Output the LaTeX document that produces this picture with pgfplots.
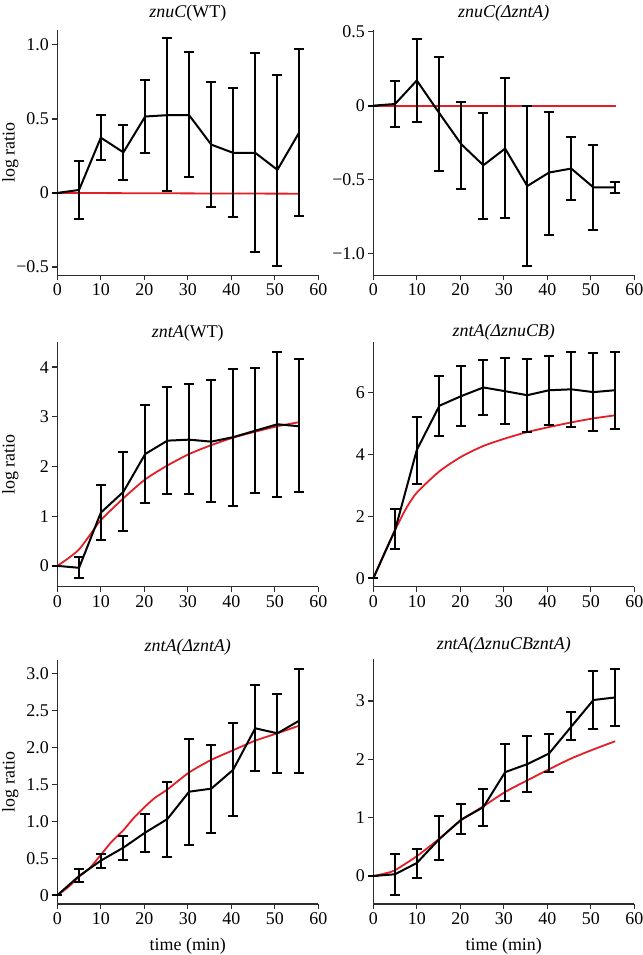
\documentclass[border=0pt]{standalone}
\usepackage{fontspec}
\setmainfont{Liberation Serif}
\usepackage{pgfplots}
\pgfplotsset{compat=1.18}
\usepackage{pgfplotstable}
\definecolor{modelred}{RGB}{228,30,36}
\definecolor{axgray}{RGB}{45,45,45}

% columns: t, mean, upper end of bar, lower end of bar
\pgfplotstableread{
t y hi lo
0 0 0 0
5 0.02 0.217 -0.174
10 0.373 0.527 0.219
15.2 0.274 0.457 0.084
20.2 0.516 0.762 0.271
25.3 0.525 1.043 0.011
30.3 0.525 0.950 0.106
35.4 0.326 0.749 -0.097
40.4 0.271 0.708 -0.165
45.5 0.271 0.943 -0.396
50.6 0.156 0.794 -0.495
55.5 0.403 0.973 -0.158
}\znuWT
\pgfplotstableread{
t y hi lo
0 0 0 0
5 0.011 0.165 -0.143
10 0.170 0.452 -0.109
15.2 -0.052 0.330 -0.443
20.2 -0.260 0.023 -0.561
25.3 -0.403 -0.050 -0.769
30.3 -0.290 0.186 -0.760
35.4 -0.543 -0.002 -1.086
40.4 -0.452 -0.041 -0.871
45.5 -0.425 -0.213 -0.636
50.6 -0.552 -0.267 -0.837
55.5 -0.552 -0.518 -0.588
}\znuDzntA
\pgfplotstableread{
t y hi lo
0 0 0 0
5 -0.04 0.168 -0.242
10 1.07 1.63 0.517
15.2 1.49 2.29 0.705
20.2 2.25 3.23 1.255
25.3 2.52 3.59 1.456
30.3 2.54 3.67 1.436
35.4 2.50 3.74 1.28
40.4 2.59 3.97 1.21
45.5 2.72 3.98 1.47
50.6 2.85 4.31 1.38
55.5 2.81 4.16 1.48
}\zntWT
\pgfplotstableread{
t y hi lo
0 0 0 0
5 1.56 2.24 0.96
10 4.15 5.20 3.06
15.2 5.58 6.54 4.61
20.2 5.89 6.86 4.91
25.3 6.17 7.05 5.29
30.3 6.05 7.13 4.98
35.4 5.92 7.09 4.74
40.4 6.08 7.19 4.97
45.5 6.11 7.33 4.88
50.6 6.02 7.27 4.76
55.5 6.08 7.33 4.83
}\zntDznuCB
\pgfplotstableread{
t y hi lo
0 0 0 0
5 0.26 0.356 0.176
10 0.468 0.554 0.365
15.2 0.644 0.797 0.473
20.2 0.847 1.10 0.581
25.3 1.03 1.536 0.523
30.3 1.40 2.117 0.685
35.4 1.441 2.03 0.838
40.4 1.694 2.333 1.068
45.5 2.257 2.838 1.685
50.6 2.189 2.72 1.658
55.5 2.356 3.063 1.649
}\zntDzntA
\pgfplotstableread{
t y hi lo
0 0 0 0
5 0.03 0.378 -0.33
10 0.223 0.458 -0.03
15.2 0.635 1.03 0.275
20.2 0.967 1.24 0.727
25.3 1.18 1.483 0.864
30.3 1.78 2.27 1.282
35.4 1.918 2.40 1.437
40.4 2.10 2.433 1.775
45.5 2.56 2.816 2.34
50.6 3.017 3.52 2.52
55.5 3.06 3.555 2.57
}\zntDboth

\pgfplotsset{
  panel/.style={
    scale only axis, width=261bp, height=245bp,
    xmin=0, xmax=60, xtick={0,10,...,60},
    axis lines=left, axis line style={-, axgray, line width=1.3bp},
    tick align=outside, major tick length=5bp,
    tick style={axgray, line width=1.3bp},
    /pgf/number format/assume math mode=true,
    tick label style={font=\fontsize{18}{20}\selectfont},
    label style={font=\fontsize{18}{20}\selectfont},
    title style={font=\fontsize{18}{20}\selectfont, anchor=center},
    y label style={at={(axis description cs:-0.18,0.5)}, anchor=center},
    x label style={at={(axis description cs:0.5,0)}, anchor=center, yshift=-42bp},
    clip=false,
  },
  model/.style={modelred, line width=1.8bp, smooth, tension=0.4, no markers},
  obs/.style={black, line width=2bp, no markers, line join=round,
    error bars/.cd, y dir=both, y explicit,
    error bar style={black, line width=2bp},
    error mark options={rotate=90, mark size=5bp, line width=2bp}},
}

\begin{document}
\begin{tikzpicture}
\useasboundingbox (0,0) rectangle (643bp,955bp);

% row 1
\begin{axis}[panel, at={(57.3bp,679.7bp)}, anchor=south west, height=245.3bp,
  ymin=-0.556, ymax=1.10, ytick={-0.5,0,0.5,1}, yticklabels={−0.5,0,0.5,1.0},
  title={\textit{znuC}(WT)}, title style={yshift=10.5bp}, ylabel={log ratio}]
\addplot[model] coordinates {(0,0) (10,-0.001) (20,-0.002) (30,-0.003) (40,-0.004) (55.5,-0.005)};
\addplot[obs] table[x=t, y=y, y error plus expr=\thisrow{hi}-\thisrow{y}, y error minus expr=\thisrow{y}-\thisrow{lo}] {\znuWT};
\end{axis}

\begin{axis}[panel, at={(373.3bp,679.7bp)}, anchor=south west, height=245.3bp,
  ymin=-1.146, ymax=0.511, ytick={-1,-0.5,0,0.5}, yticklabels={−1.0,−0.5,0,0.5},
  title={\textit{znuC(ΔzntA)}}, title style={yshift=10.5bp}]
\addplot[model] coordinates {(0,0) (20,0) (40,0) (55.6,0)};
\addplot[obs] table[x=t, y=y, y error plus expr=\thisrow{hi}-\thisrow{y}, y error minus expr=\thisrow{y}-\thisrow{lo}] {\znuDzntA};
\end{axis}

% row 2
\begin{axis}[panel, at={(57.3bp,368.3bp)}, anchor=south west, height=244.4bp,
  ymin=-0.42, ymax=4.50, ytick={0,1,2,3,4},
  title={\textit{zntA}(WT)}, title style={yshift=3.5bp}, ylabel={log ratio}]
\addplot[model] coordinates {(0,0) (2.5,0.15) (5,0.33) (7.5,0.62) (10,0.92) (15.2,1.36) (20.2,1.74) (25.3,2.02) (30.3,2.25) (35.4,2.43) (40.4,2.58) (45.5,2.70) (50.6,2.81) (55.5,2.89)};
\addplot[obs] table[x=t, y=y, y error plus expr=\thisrow{hi}-\thisrow{y}, y error minus expr=\thisrow{y}-\thisrow{lo}] {\zntWT};
\end{axis}

\begin{axis}[panel, at={(373.3bp,368.3bp)}, anchor=south west, height=244.4bp,
  ymin=-0.27, ymax=7.63, ytick={0,2,4,6},
  title={\textit{zntA(ΔznuCB)}}, title style={yshift=4.5bp}]
\addplot[model] coordinates {(0,0) (2.5,0.8) (5,1.56) (7.5,2.25) (10,2.77) (15.2,3.46) (20.2,3.93) (25.3,4.28) (30.3,4.52) (35.4,4.73) (40.4,4.89) (45.5,5.04) (50.6,5.17) (55.6,5.27)};
\addplot[obs] table[x=t, y=y, y error plus expr=\thisrow{hi}-\thisrow{y}, y error minus expr=\thisrow{y}-\thisrow{lo}] {\zntDznuCB};
\end{axis}

% row 3
\begin{axis}[panel, at={(57.3bp,51bp)}, anchor=south west, height=244bp,
  ymin=-0.118, ymax=3.18, ytick={0,0.5,...,3}, yticklabels={0,0.5,1.0,1.5,2.0,2.5,3.0},
  title={\textit{zntA(ΔzntA)}}, title style={yshift=7bp}, ylabel={log ratio}, xlabel={time (min)}]
\addplot[model] coordinates {(0,0) (2.5,0.11) (5,0.25) (7.5,0.37) (10,0.545) (12.5,0.725) (15.2,0.88) (17.5,1.04) (20.2,1.20) (22.5,1.32) (25.3,1.43) (30.3,1.66) (35.4,1.83) (40.4,1.96) (45.5,2.09) (50.6,2.19) (55.5,2.29)};
\addplot[obs] table[x=t, y=y, y error plus expr=\thisrow{hi}-\thisrow{y}, y error minus expr=\thisrow{y}-\thisrow{lo}] {\zntDzntA};
\end{axis}

\begin{axis}[panel, at={(373.3bp,51bp)}, anchor=south west, height=244.7bp,
  ymin=-0.48, ymax=3.715, ytick={0,1,2,3},
  title={\textit{zntA(ΔznuCBzntA)}}, title style={yshift=8bp}, xlabel={time (min)}]
\addplot[model] coordinates {(0,0) (2.5,0.04) (5,0.10) (10,0.34) (15.2,0.64) (20.2,0.956) (25.3,1.196) (30.3,1.44) (35.4,1.64) (40.4,1.83) (45.5,2.015) (50.6,2.17) (55.6,2.31)};
\addplot[obs] table[x=t, y=y, y error plus expr=\thisrow{hi}-\thisrow{y}, y error minus expr=\thisrow{y}-\thisrow{lo}] {\zntDboth};
\end{axis}
\end{tikzpicture}
\end{document}
